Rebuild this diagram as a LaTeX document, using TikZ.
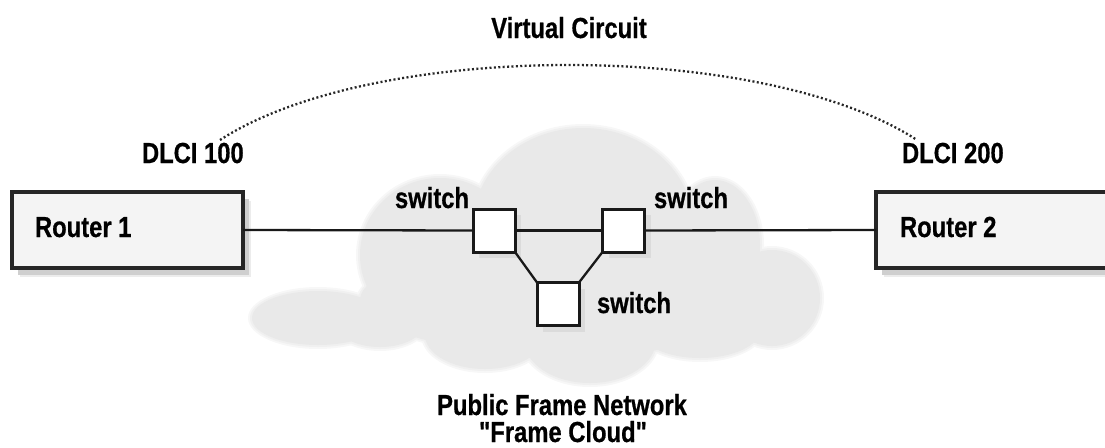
\documentclass[tikz,border=0pt]{standalone}
\usepackage{fontspec}
\setmainfont{Liberation Sans}[FakeStretch=0.82, FakeBold=0.6, Ligatures=TeXOff]
\usetikzlibrary{shadows}
\newcommand\cloudblobs[1]{%
  \fill (583,225) ellipse [x radius=110pt+#1pt, y radius=97pt+#1pt];
  \fill (440,255) ellipse [x radius=80pt+#1pt, y radius=77pt+#1pt];
  \fill (318,318) ellipse [x radius=66pt+#1pt, y radius=27pt+#1pt];
  \fill (570,300) ellipse [x radius=210pt+#1pt, y radius=55pt+#1pt];
  \fill (715,245) ellipse [x radius=45pt+#1pt, y radius=65pt+#1pt];
  \fill (772,298) ellipse [x radius=48pt+#1pt, y radius=48pt+#1pt];
  \fill (590,340) ellipse [x radius=66pt+#1pt, y radius=43pt+#1pt];
  \fill (485,335) ellipse [x radius=60pt+#1pt, y radius=34pt+#1pt];
  \fill (380,322) ellipse [x radius=45pt+#1pt, y radius=25pt+#1pt];
  \fill (700,330) ellipse [x radius=60pt+#1pt, y radius=28pt+#1pt];
}
\begin{document}
\begin{tikzpicture}[x=1pt,y=-1pt,
  lbl/.style={inner sep=0pt, outer sep=0pt, font=\bfseries\fontsize{29}{27}\selectfont},
  router/.style={draw=black!85, line width=3.5pt, fill=gray!9, outer sep=0pt, inner sep=0pt,
    general shadow={shadow xshift=8pt, shadow yshift=-9pt, fill=gray!15},
    general shadow={shadow xshift=6pt, shadow yshift=-7pt, fill=gray!38}},
  switchbox/.style={draw=black!90, line width=3pt, fill=white, outer sep=0pt, inner sep=0pt,
    minimum width=42pt, minimum height=43pt,
    general shadow={shadow xshift=6pt, shadow yshift=-6pt, fill=gray!28}},
  link/.style={line width=2.3pt, black!90},
  vc/.style={line width=2.3pt, black!85, dash pattern=on 2pt off 2.4pt}]
\useasboundingbox (0,0) rectangle (1105,447);
\clip (0,0) rectangle (1105,447);
% cloud with soft edge
\begin{scope}[fill=gray!6]\cloudblobs{4}\end{scope}
\begin{scope}[fill=gray!12]\cloudblobs{2}\end{scope}
\begin{scope}[fill=gray!17]\cloudblobs{0}\end{scope}
% virtual circuit arc
\coordinate (vcL) at (220,140);
\coordinate (vcR) at (917,140);
\draw[vc] (vcL) .. controls +(154,-100) and +(-154,-100) .. (vcR);
% routers and switches
\node[router, minimum width=231pt, minimum height=76pt] (r1) at (127.5,230) {};
\node[router, minimum width=239pt, minimum height=76pt] (r2) at (995.5,230) {};
\node[switchbox] (sw1) at (494,230.5) {};
\node[switchbox] (sw2) at (623.5,230.5) {};
\node[switchbox] (sw3) at (558,304) {};
% connectors
\draw[link] (r1.east) -- (sw1.west);
\draw[link] (sw1.east) -- (sw2.west);
\draw[link] (sw2.east) -- (r2.west);
\draw[link] (sw1.south east) -- (sw3.north west);
\draw[link] (sw2.south west) -- (sw3.north east);
% labels
\node[lbl, anchor=base] (vclbl) at (569,38) {Virtual Circuit};
\node[lbl, anchor=base west] (d100) at (142,163) {DLCI 100};
\node[lbl, anchor=base west] (d200) at (902,163) {DLCI 200};
\node[lbl, anchor=base west] (r1t) at (35,237) {Router 1};
\node[lbl, anchor=base west] (r2t) at (900,237) {Router 2};
\node[lbl, anchor=base east] (s1t) at (469,208) {switch};
\node[lbl, anchor=base west] (s2t) at (654,208) {switch};
\node[lbl, anchor=base west] (s3t) at (597,313) {switch};
\node[lbl, anchor=base] (pfn) at (562,415) {Public Frame Network};
\node[lbl, anchor=base] (fc) at (563,442) {"Frame Cloud"};
\end{tikzpicture}
\end{document}
